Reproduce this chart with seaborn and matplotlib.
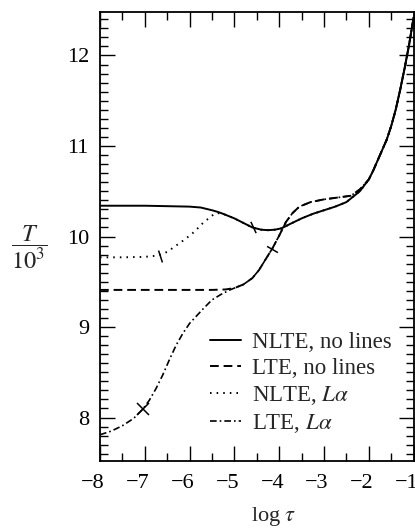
import matplotlib
matplotlib.use("Agg")
import matplotlib.pyplot as plt
from matplotlib.ticker import MultipleLocator
from matplotlib.transforms import ScaledTranslation
import seaborn as sns

# Temperature structure T/10^3 versus log optical depth for four model atmospheres
nlte_nolines_x = [-8.0, -7.5, -7.0, -6.5, -6.0, -5.75, -5.5, -5.36, -5.25, -5.0, -4.8,
                  -4.6, -4.4, -4.25, -4.1, -3.95, -3.75, -3.5, -3.25, -3.0, -2.75,
                  -2.5, -2.4, -2.2, -2.0, -1.9, -1.75, -1.6, -1.5, -1.4, -1.3, -1.2,
                  -1.1, -1.0]
nlte_nolines_y = [10.34, 10.34, 10.34, 10.335, 10.33, 10.32, 10.29, 10.27, 10.25, 10.2, 10.15,
                  10.1, 10.075, 10.07, 10.075, 10.09, 10.14, 10.2, 10.25, 10.29, 10.33,
                  10.38, 10.42, 10.5, 10.63, 10.73, 10.9, 11.07, 11.22, 11.4, 11.62, 11.86,
                  12.12, 12.42]

lte_nolines_x = [-8.0, -7.0, -6.0, -5.5, -5.2, -5.0, -4.8, -4.6, -4.45, -4.3, -4.15,
                 -4.0, -3.85, -3.7, -3.55, -3.3, -3.0, -2.7, -2.4, -2.2, -2.0, -1.9,
                 -1.75, -1.6, -1.5, -1.4, -1.3, -1.2, -1.1, -1.0]
lte_nolines_y = [9.41, 9.41, 9.41, 9.41, 9.415, 9.43, 9.47, 9.54, 9.63, 9.75, 9.87,
                 10.01, 10.16, 10.26, 10.33, 10.38, 10.41, 10.43, 10.45, 10.52, 10.63, 10.73,
                 10.9, 11.07, 11.22, 11.4, 11.62, 11.86, 12.12, 12.42]

nlte_la_x = [-8.0, -7.5, -7.0, -6.7, -6.5, -6.3, -6.1, -5.9, -5.7, -5.5, -5.4,
             -5.25, -5.0, -4.8, -4.6, -4.4, -4.25, -4.1, -3.95, -3.75, -3.5, -3.25,
             -3.0, -2.75, -2.5, -2.4, -2.2, -2.0, -1.9, -1.75, -1.6, -1.5, -1.4,
             -1.3, -1.2, -1.1, -1.0]
nlte_la_y = [9.77, 9.77, 9.775, 9.79, 9.83, 9.9, 9.97, 10.05, 10.15, 10.23, 10.26,
             10.25, 10.2, 10.15, 10.1, 10.075, 10.07, 10.075, 10.09, 10.14, 10.2, 10.25,
             10.29, 10.33, 10.38, 10.42, 10.5, 10.63, 10.73, 10.9, 11.07, 11.22, 11.4,
             11.62, 11.86, 12.12, 12.42]

lte_la_x = [-8.0, -7.75, -7.5, -7.25, -7.05, -6.9, -6.75, -6.6, -6.45, -6.3, -6.15,
            -6.0, -5.85, -5.7, -5.5, -5.3, -5.1, -5.0, -4.8, -4.6, -4.45, -4.3,
            -4.15, -4.0, -3.85, -3.7, -3.55, -3.3, -3.0, -2.7, -2.4, -2.2, -2.0,
            -1.9, -1.75, -1.6, -1.5, -1.4, -1.3, -1.2, -1.1, -1.0]
lte_la_y = [7.81, 7.85, 7.91, 7.99, 8.09, 8.19, 8.32, 8.47, 8.64, 8.8, 8.93,
            9.04, 9.12, 9.2, 9.3, 9.36, 9.41, 9.43, 9.47, 9.54, 9.63, 9.75,
            9.87, 10.01, 10.16, 10.26, 10.33, 10.38, 10.41, 10.43, 10.45, 10.52, 10.63,
            10.73, 10.9, 11.07, 11.22, 11.4, 11.62, 11.86, 12.12, 12.42]

# Points where each model is marked (tau = 1 at line centre)
mark_x = [-4.58, -4.16, -6.66, -7.05]
mark_y = [10.10, 9.86, 9.79, 8.09]

labels = ["NLTE, no lines", "LTE, no lines", r"NLTE, $L\alpha$", r"LTE, $L\alpha$"]
x_ticks = [-8, -7, -6, -5, -4, -3, -2, -1]
y_ticks = [8, 9, 10, 11, 12]

sns.set_style("ticks")
plt.rcParams["font.family"] = ["Liberation Serif", "DejaVu Serif"]
plt.rcParams["mathtext.fontset"] = "stix"
plt.rcParams["axes.unicode_minus"] = True

fig = plt.figure(figsize=(4.15, 5.28), dpi=100)
ax = fig.add_axes([100 / 415, 67 / 528, 313.6 / 415, 449 / 528])

lw = 1.4
sns.lineplot(x=nlte_nolines_x, y=nlte_nolines_y, ax=ax, color="black", lw=lw,
             linestyle="-", label=labels[0], sort=False, estimator=None)
sns.lineplot(x=lte_nolines_x, y=lte_nolines_y, ax=ax, color="black", lw=lw,
             linestyle=(0, (4.5, 2.5)), label=labels[1], sort=False, estimator=None)
sns.lineplot(x=nlte_la_x, y=nlte_la_y, ax=ax, color="black", lw=lw,
             linestyle=(0, (0.8, 2.6)), label=labels[2], sort=False, estimator=None)
sns.lineplot(x=lte_la_x, y=lte_la_y, ax=ax, color="black", lw=1.2,
             linestyle=(0, (4, 1.8, 1, 1.8)), label=labels[3], sort=False, estimator=None)

# Short cross-strokes marking each curve
mark_styles = [(2, 0, 25), (2, 0, 60), (2, 0, 18), "x"]
for mx, my, mk in zip(mark_x, mark_y, mark_styles):
    ax.plot([mx], [my], linestyle="none", marker=mk, markersize=9,
            markeredgewidth=1.1, color="black")

ax.set_xlim(-8, -1)
ax.set_ylim(7.52, 12.48)
ax.set_xticks(x_ticks)
ax.set_yticks(y_ticks)
ax.xaxis.set_minor_locator(MultipleLocator(0.5))
ax.yaxis.set_minor_locator(MultipleLocator(0.1))
ax.tick_params(which="both", direction="in", top=True, right=True, width=1.0,
               labelsize=16, colors="black")
ax.tick_params(which="major", length=11)
ax.tick_params(which="minor", length=6)
ax.tick_params(axis="y", which="major", pad=8)
ax.tick_params(axis="x", which="major", pad=9)
for sp in ax.spines.values():
    sp.set_linewidth(1.3)
    sp.set_color("black")

# Centre the digit (not the whole signed number) under each x tick
shift = ScaledTranslation(-0.07, 0, fig.dpi_scale_trans)
for tick in ax.xaxis.get_major_ticks():
    tick.label1.set_transform(tick.label1.get_transform() + shift)

# Axis titles
ax.text(0.555, (461 - 521) / 449, r"log $\tau$", transform=ax.transAxes,
        fontsize=16, ha="center", va="baseline")
ax.set_ylabel(r"$\dfrac{T}{10^3}$", fontsize=17.5, rotation=0, ha="center", va="center")
ax.yaxis.set_label_coords(-0.226, 0.477)

leg = ax.legend(loc="upper left", bbox_to_anchor=(0.351, 0.287), frameon=False,
                fontsize=16.5, handlelength=1.35, handletextpad=0.5,
                labelspacing=0.22, borderpad=0, borderaxespad=0)

fig.savefig("out.png", dpi=100)
